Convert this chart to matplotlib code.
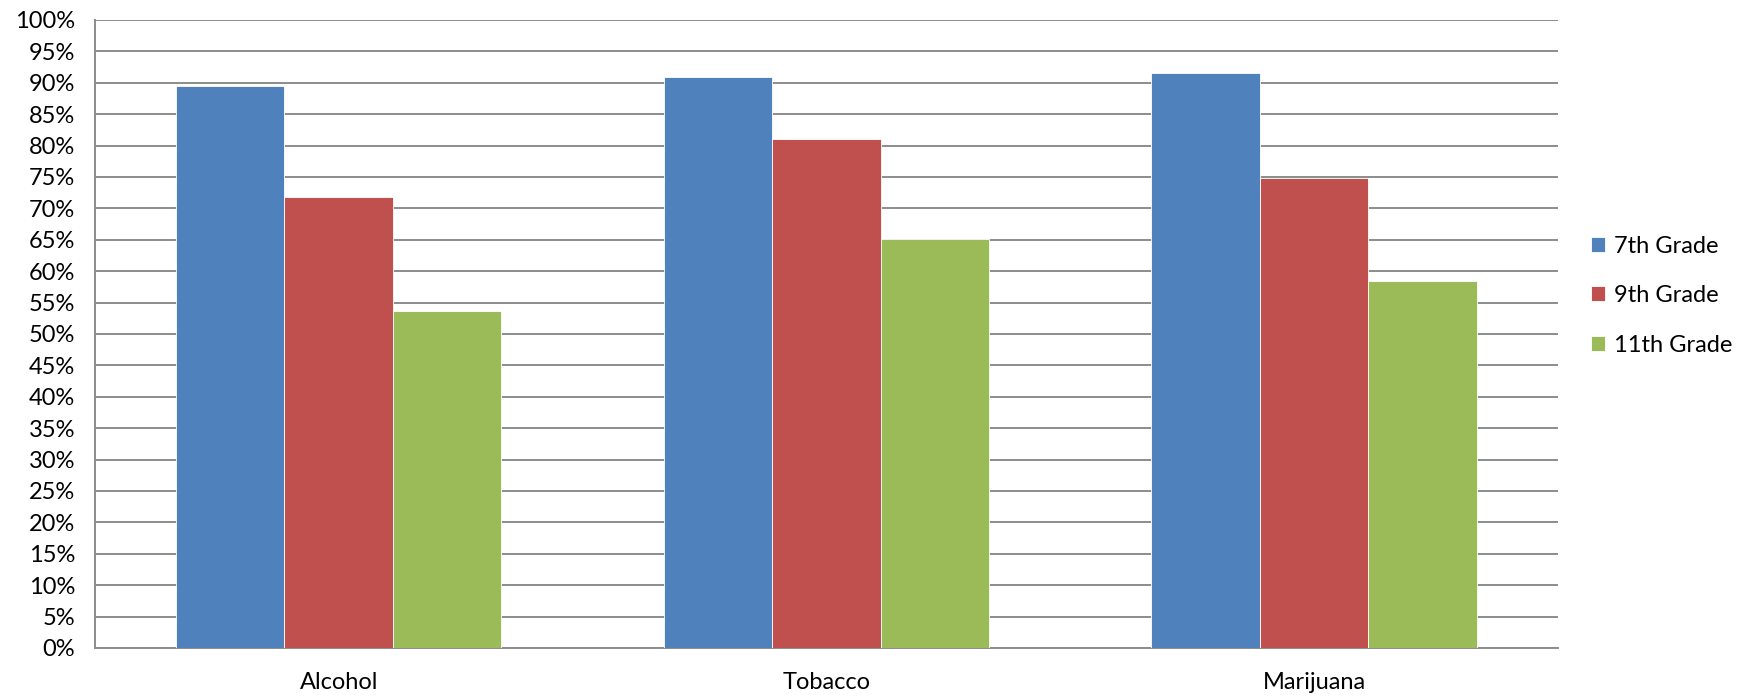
import matplotlib

matplotlib.use("Agg")
import matplotlib.pyplot as plt
import numpy as np
from matplotlib.ticker import MultipleLocator, PercentFormatter

categories = ["Alcohol", "Tobacco", "Marijuana"]
series_names = ["7th Grade", "9th Grade", "11th Grade"]
grade_7 = [89.5, 90.9, 91.6]
grade_9 = [71.8, 81.0, 74.8]
grade_11 = [53.6, 65.1, 58.4]
colors = ["#4F81BD", "#C0504D", "#9BBB59"]

plt.rcParams["font.family"] = ["Lato", "DejaVu Sans"]

fig = plt.figure(figsize=(17.49, 6.96), dpi=100)
ax = fig.add_axes([0.0542, 0.069, 0.8366, 0.9023])

x = np.arange(len(categories))
width = 0.2225
for i, (name, values) in enumerate(zip(series_names, [grade_7, grade_9, grade_11])):
    ax.bar(x + (i - 1) * width, values, width, color=colors[i], label=name,
           edgecolor="white", linewidth=0.6, zorder=3)

ax.set_xlim(-0.5, len(categories) - 0.5)
ax.set_ylim(0, 100)
ax.yaxis.set_major_locator(MultipleLocator(5))
ax.yaxis.set_major_formatter(PercentFormatter(decimals=0))
ax.set_xticks(x)
ax.set_xticklabels(categories)
ax.tick_params(axis="both", length=0, labelsize=17, colors="black")
ax.tick_params(axis="y", pad=14)
ax.tick_params(axis="x", pad=17)

ax.grid(True, axis="y", color="#8C8C8C", linewidth=1.4, zorder=0)
for side in ["top", "right"]:
    ax.spines[side].set_visible(False)
ax.spines["left"].set_color("#8C8C8C")
ax.spines["bottom"].set_color("#8C8C8C")
ax.spines["left"].set_linewidth(1.4)
ax.spines["bottom"].set_linewidth(1.4)

ax.legend(loc="center left", bbox_to_anchor=(0.904, 0.575), bbox_transform=fig.transFigure,
          frameon=False, fontsize=17, handlelength=0.6, handleheight=0.6,
          handletextpad=0.4, labelspacing=1.2, borderaxespad=0)

fig.savefig("out.png", dpi=100)
